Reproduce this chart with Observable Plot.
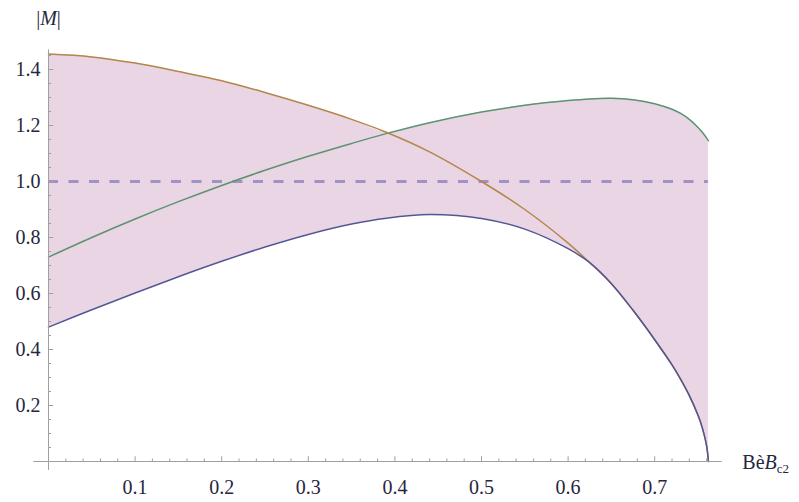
<!DOCTYPE html>
<html>
<head>
<meta charset="utf-8">
<script src="https://cdn.jsdelivr.net/npm/d3@7"></script>
<script src="https://cdn.jsdelivr.net/npm/@observablehq/plot@0.6"></script>
<style>
  html, body { margin: 0; padding: 0; background: #fff; }
  #chart svg { display: block; }
  #chart svg text { font-family: "Liberation Serif", "DejaVu Serif", serif !important; }
</style>
</head>
<body>
<div id="chart"></div>
<script>
// x values (B/Bc2) at which the curves were read
const xs     = [0, 0.05, 0.1, 0.15, 0.2, 0.25, 0.3, 0.35, 0.39, 0.44, 0.5, 0.55, 0.6, 0.625, 0.65, 0.675, 0.7, 0.72, 0.73, 0.74, 0.75, 0.755, 0.76, 0.762];
// orange curve (decreasing)
const orange = [1.455, 1.445, 1.423, 1.393, 1.36, 1.318, 1.272, 1.222, 1.176, 1.106, 1.0, 0.9, 0.78, 0.71, 0.635, 0.54, 0.435, 0.345, 0.293, 0.235, 0.165, 0.12, 0.055, 0];
// green curve (rising, peak ~1.3)
const green  = [0.73, 0.80, 0.866, 0.928, 0.986, 1.04, 1.09, 1.136, 1.171, 1.21, 1.248, 1.272, 1.289, 1.295, 1.297, 1.292, 1.278, 1.258, 1.243, 1.222, 1.193, 1.176, 1.155, 1.146];
// blue curve (peak ~0.88, then merges with orange)
const blue   = [0.48, 0.542, 0.602, 0.66, 0.715, 0.766, 0.811, 0.848, 0.869, 0.882, 0.868, 0.83, 0.76, 0.71, 0.635, 0.54, 0.435, 0.345, 0.293, 0.235, 0.165, 0.12, 0.055, 0];
// reference level
const refLevel = [1.0];

// tick values
const xTicks = [0.1, 0.2, 0.3, 0.4, 0.5, 0.6, 0.7];
const yTicks = [0.2, 0.4, 0.6, 0.8, 1.0, 1.2, 1.4];
const xMinor = d3.range(1, 39).map(i => +(i * 0.02).toFixed(2)).filter(v => Math.abs(v * 10 - Math.round(v * 10)) > 1e-6);
const yMinor = d3.range(1, 30).map(i => +(i * 0.05).toFixed(2)).filter(v => Math.abs(v * 5 - Math.round(v * 5)) > 1e-6);

const fmt = d3.format(".1f");

const rows = xs.map((x, i) => ({
  x,
  orange: orange[i],
  green: green[i],
  blue: blue[i],
  hi: Math.max(orange[i], green[i]),
  lo: Math.min(orange[i], blue[i])
}));

const axisColor = "#a0a0a0";
const textColor = "#26263e";
const serif = "Liberation Serif, DejaVu Serif, serif";

const chart = Plot.plot({
  width: 799,
  height: 502,
  marginLeft: 48,
  marginRight: 58.2,
  marginTop: 41,
  marginBottom: 41,
  x: { domain: [0, 0.8], axis: null },
  y: { domain: [0, 1.5], axis: null },
  style: { fontFamily: serif, background: "#fff" },
  marks: [
    // shaded region
    Plot.areaY(rows, { x: "x", y1: "lo", y2: "hi", fill: "#e9d5e3", curve: "catmull-rom" }),
    // dashed reference line
    Plot.ruleY(refLevel, { x1: 0, x2: xs[xs.length - 1], stroke: "#9f92c4", strokeWidth: 3, strokeDasharray: "10,10.5" }),
    // curves
    Plot.line(rows, { x: "x", y: "green", stroke: "#5a9470", strokeWidth: 1.5, curve: "catmull-rom" }),
    Plot.line(rows, { x: "x", y: "orange", stroke: "#b4864c", strokeWidth: 1.5, curve: "catmull-rom" }),
    Plot.line(rows, { x: "x", y: "blue", stroke: "#525596", strokeWidth: 1.5, curve: "catmull-rom" }),
    // axes lines
    Plot.ruleY([0], { x1: -0.017, x2: 0.778, stroke: axisColor, strokeWidth: 1 }),
    Plot.ruleX([0], { y1: -0.032, y2: 1.47, stroke: axisColor, strokeWidth: 1 }),
    // x ticks
    Plot.ruleX(xTicks, { y1: 0, y2: 0.017, stroke: axisColor }),
    Plot.ruleX(xMinor, { y1: 0, y2: 0.009, stroke: axisColor }),
    // y ticks
    Plot.ruleY(yTicks, { x1: 0, x2: 0.006, stroke: axisColor }),
    Plot.ruleY(yMinor, { x1: 0, x2: 0.0035, stroke: axisColor }),
    // tick labels
    Plot.text(xTicks, { x: d => d, y: 0, text: d => fmt(d), dy: 26, fill: textColor, fontSize: 20, fontFamily: serif, textAnchor: "middle" }),
    Plot.text(yTicks, { x: 0, y: d => d, text: d => fmt(d), dx: -8, fill: textColor, fontSize: 20, fontFamily: serif, textAnchor: "end" }),
    // axis labels
    Plot.text(["|M|"], { x: 0, y: 1.5, dy: -23, text: d => d, fill: textColor, fontSize: 20, fontFamily: serif, textAnchor: "middle", className: "ylab" }),
    Plot.text(["B\u00e8Bc2"], { x: 0.8, y: 0, dx: 1, dy: 1, text: d => d, fill: textColor, fontSize: 20, fontFamily: serif, textAnchor: "start", className: "xlab" })
  ]
});

// rich formatting of the axis labels (italic M, italic B with subscript)
const svg = d3.select(chart);
svg.selectAll("g.ylab text").each(function () {
  const t = d3.select(this);
  t.text(null);
  t.append("tspan").text("|");
  t.append("tspan").attr("font-style", "italic").text("M");
  t.append("tspan").text("|");
});
svg.selectAll("g.xlab text").each(function () {
  const t = d3.select(this);
  t.text(null);
  t.append("tspan").text("B\u00e8");
  t.append("tspan").attr("font-style", "italic").text("B");
  t.append("tspan").attr("font-size", 13).attr("dy", "0.35em").text("c2");
});

document.getElementById("chart").appendChild(chart);
</script>
</body>
</html>
